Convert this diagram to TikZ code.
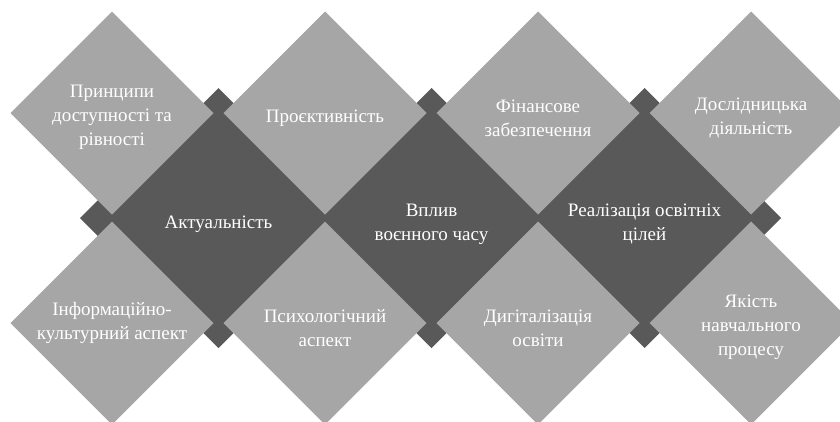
\documentclass[tikz,border=0pt]{standalone}
\usepackage{fontspec}
\setmainfont{Liberation Serif}
\usetikzlibrary{shapes.geometric}
\definecolor{lightg}{HTML}{A6A6A6}
\definecolor{darkg}{HTML}{595959}
\begin{document}
\begin{tikzpicture}[x=1pt,y=-1pt,
  bigd/.style={diamond, minimum width=224pt, minimum height=224pt, inner sep=0pt, outer sep=0pt, fill=darkg},
  lightd/.style={diamond, minimum width=203pt, minimum height=203pt, inner sep=0pt, outer sep=0pt, fill=lightg},
  smalld/.style={diamond, minimum width=50pt, minimum height=50pt, inner sep=0pt, outer sep=0pt, fill=darkg},
  lbl/.style={text=white, font=\fontsize{19}{24}\selectfont, align=center, inner sep=0pt}]
\useasboundingbox (0,0) rectangle (840,421);
\clip (0,0) rectangle (840,421);
% dark diamonds
\node[bigd] (d1) at (218.5,218) {};
\node[bigd] (d2) at (431.5,218) {};
\node[bigd] (d3) at (644.5,218) {};
% small diamonds
\node[smalld] (s1) at (218.5,113) {};
\node[smalld] (s2) at (431.5,113) {};
\node[smalld] (s3) at (644.5,113) {};
\node[smalld] (s4) at (218.5,323) {};
\node[smalld] (s5) at (431.5,323) {};
\node[smalld] (s6) at (644.5,323) {};
\node[smalld] (s7) at (105,218) {};
\node[smalld] (s8) at (756,218) {};
% light diamonds
\node[lightd] (t1) at (112,113) {};
\node[lightd] (t2) at (325,113) {};
\node[lightd] (t3) at (538,113) {};
\node[lightd] (t4) at (751,113) {};
\node[lightd] (b1) at (112,323) {};
\node[lightd] (b2) at (325,323) {};
\node[lightd] (b3) at (538,323) {};
\node[lightd] (b4) at (751,323) {};
% labels
\node[lbl] (lt1) at ([yshift=-4pt]t1) {Принципи\\доступності та\\рівності};
\node[lbl] (lt2) at ([yshift=-5pt]t2) {Проєктивність};
\node[lbl] (lt3) at ([yshift=-5pt]t3) {Фінансове\\забезпечення};
\node[lbl] (lt4) at ([yshift=-5pt]t4) {Дослідницька\\діяльність};
\node[lbl] (lb1) at (b1) {Інформаційно-\\культурний аспект};
\node[lbl] (lb2) at ([yshift=-5pt]b2) {Психологічний\\аспект};
\node[lbl] (lb3) at ([yshift=-5pt]b3) {Дигіталізація\\освіти};
\node[lbl] (lb4) at ([yshift=-4pt]b4) {Якість\\навчального\\процесу};
\node[lbl] (ld1) at ([yshift=-6pt]d1) {Актуальність};
\node[lbl] (ld2) at ([yshift=-6pt]d2) {Вплив\\воєнного часу};
\node[lbl] (ld3) at ([yshift=-6pt]d3) {Реалізація освітніх\\цілей};
\end{tikzpicture}
\end{document}
